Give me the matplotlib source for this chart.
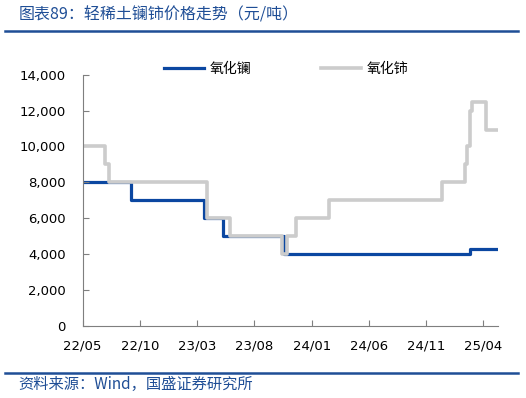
import matplotlib
matplotlib.use("Agg")
import matplotlib.pyplot as plt
import matplotlib.dates as mdates
from matplotlib.ticker import FuncFormatter
import pandas as pd

plt.rcParams['font.family'] = ['DejaVu Sans', 'Noto Sans CJK SC']
CJK = ['Noto Sans CJK SC', 'DejaVu Sans']

# step change dates and price levels (yuan/ton)
la_dates = ["2022-05-01", "2022-09-07", "2023-03-21", "2023-05-09",
            "2023-10-20", "2025-02-25", "2025-05-10"]
la_values = [8000, 7000, 6000, 5000, 4000, 4300, 4300]

ce_dates = ["2022-05-01", "2022-07-01", "2022-07-10", "2023-03-28",
            "2023-05-29", "2023-10-14", "2023-10-27", "2023-11-19",
            "2024-02-16", "2024-12-14", "2025-02-11", "2025-02-17",
            "2025-02-25", "2025-03-03", "2025-04-08", "2025-05-10"]
ce_values = [10000, 9000, 8000, 6000, 5000, 4000, 5000, 6000,
             7000, 8000, 9000, 10000, 12000, 12500, 10900, 10900]

tick_dates = ["2022-05-01", "2022-10-01", "2023-03-01", "2023-08-01",
              "2024-01-01", "2024-06-01", "2024-11-01", "2025-04-01"]

BLUE = "#0B47A1"
GRAY = "#CCCCCC"
AXIS = "#7F7F7F"

fig = plt.figure(figsize=(5.26, 3.98), dpi=100)
ax = fig.add_axes([0.157, 0.182, 0.789, 0.630])

# grey series is drawn on top of the blue one in the original
ax.step(pd.to_datetime(la_dates), la_values, where="post",
        color=BLUE, lw=2.3, label="氧化镧", zorder=1)
ax.step(pd.to_datetime(ce_dates), ce_values, where="post",
        color=GRAY, lw=2.6, label="氧化铈", zorder=2)

ax.set_ylim(0, 14000)
ax.set_yticks(range(0, 14001, 2000))
ax.yaxis.set_major_formatter(FuncFormatter(lambda v, p: f"{int(v):,}"))
ax.set_xlim(pd.Timestamp("2022-05-01"), pd.Timestamp("2025-05-10"))
ax.set_xticks(pd.to_datetime(tick_dates))
ax.xaxis.set_major_formatter(mdates.DateFormatter("%y/%m"))

for s in ["top", "right"]:
    ax.spines[s].set_visible(False)
for s in ["left", "bottom"]:
    ax.spines[s].set_color(AXIS)
    ax.spines[s].set_linewidth(0.8)
ax.tick_params(axis="both", direction="in", color=AXIS, length=4,
               labelsize=9.5, labelcolor="black")
ax.tick_params(axis="y", pad=12)
ax.tick_params(axis="x", pad=10)

leg = ax.legend(loc="upper center", bbox_to_anchor=(0.49, 1.1), ncol=2,
                frameon=False, prop={'family': CJK, 'size': 10},
                handlelength=2.9, columnspacing=5.0, handletextpad=0.4)

fig.text(0.035, 0.962, "图表89：轻稀土镧铈价格走势（元/吨）", family=CJK,
         fontsize=11.5, color="#1F4E96", va="center", ha="left")
fig.add_artist(plt.Line2D([0.01, 0.985], [0.921, 0.921],
                          color="#1F4E96", lw=1.8))
fig.add_artist(plt.Line2D([0.01, 0.985], [0.062, 0.062],
                          color="#1F4E96", lw=1.8))
fig.text(0.035, 0.035, "资料来源：Wind，国盛证券研究所", family=CJK,
         fontsize=11, color="#1F4E96", va="center", ha="left")

fig.savefig("out.png", dpi=100)
